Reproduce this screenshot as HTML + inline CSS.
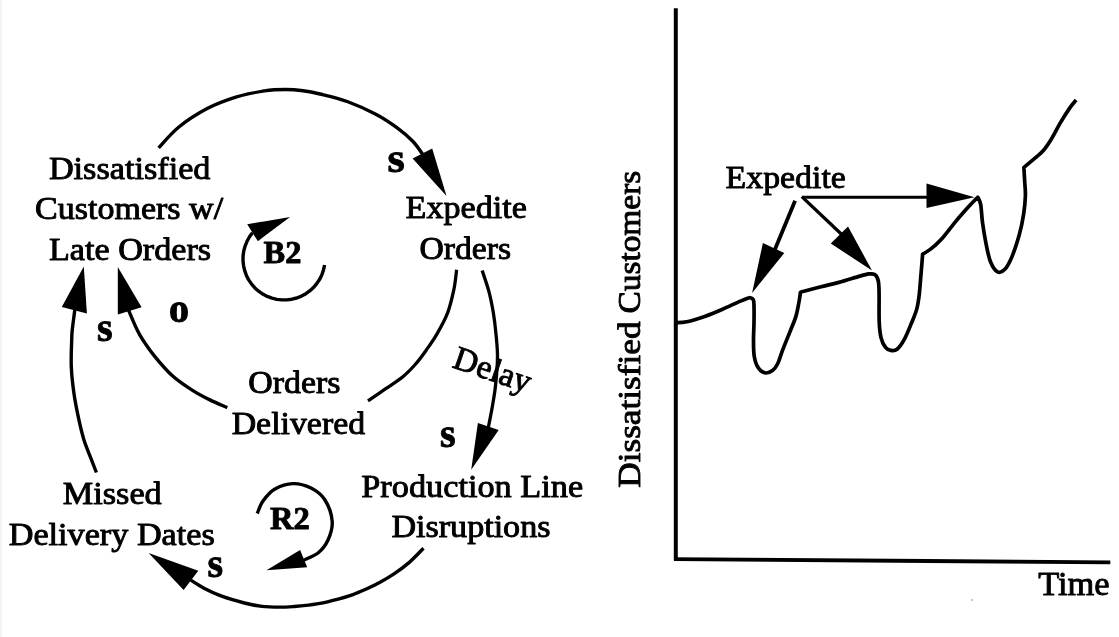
<!DOCTYPE html>
<html><head><meta charset="utf-8"><title>Causal loop</title>
<style>
html,body{margin:0;padding:0;background:#fff;}
body{width:1119px;height:637px;overflow:hidden;}
svg{display:block;font-family:"Liberation Serif",serif;fill:#000;}
text{stroke:#000;stroke-width:0.9px;stroke-linejoin:round;}
#ink{filter:url(#soft);}
</style></head><body>
<svg width="1119" height="637" viewBox="0 0 1119 637">
<defs><filter id="soft" x="-2%" y="-2%" width="104%" height="104%"><feGaussianBlur stdDeviation="0.55"/></filter></defs>
<rect width="1119" height="637" fill="#fff"/>
<rect x="0" y="0" width="2" height="637" fill="#f4f4f4"/>
<g id="ink">
<path d="M158.6 147.9 C161.9 144.5 170.5 133.8 178.6 127.2 C186.7 120.7 197.7 113.6 207.2 108.6 C216.7 103.6 226.3 100.2 235.8 97.2 C245.3 94.2 256.1 92.2 264.4 90.9 C272.7 89.6 279.4 89.5 285.8 89.5 C292.2 89.5 297.3 90.0 303.0 90.8 C308.7 91.5 312.6 92.2 320.0 94.0 C327.4 95.8 337.9 98.1 347.2 101.5 C356.5 104.9 367.5 109.9 375.8 114.3 C384.1 118.7 391.0 123.4 397.2 127.9 C403.4 132.4 408.6 136.9 413.0 141.5 C417.4 146.1 421.8 153.2 423.5 155.5" fill="none" stroke="#000" stroke-width="3.40" stroke-linecap="butt" stroke-linejoin="round" />
<path d="M446.5 196.1 L412.6 158.6 L432.2 148.6 Z" fill="#000"/>
<path d="M482.2 270.6 C483.3 274.0 486.9 284.1 488.8 291.1 C490.7 298.1 492.1 305.4 493.3 312.6 C494.5 319.8 495.3 326.7 496.0 334.1 C496.7 341.6 497.6 348.9 497.5 357.3 C497.4 365.7 496.5 376.6 495.6 384.7 C494.8 392.8 493.6 399.1 492.4 406.2 C491.2 413.2 489.1 423.5 488.4 427.0" fill="none" stroke="#000" stroke-width="3.30" stroke-linecap="butt" stroke-linejoin="round" />
<path d="M471.2 469.8 L477.9 422.9 L498.7 430.0 Z" fill="#000"/>
<path d="M456.6 269.7 C456.2 273.0 455.4 282.2 453.9 289.4 C452.4 296.5 450.5 305.2 447.7 312.6 C444.9 320.1 440.5 327.8 436.9 334.1 C433.3 340.4 429.8 345.1 426.2 350.2 C422.6 355.3 419.1 360.1 415.2 364.5 C411.3 368.9 407.9 372.6 402.9 376.7 C397.9 380.8 390.8 385.2 385.0 389.2 C379.2 393.2 370.8 398.9 368.0 400.8" fill="none" stroke="#000" stroke-width="3.30" stroke-linecap="butt" stroke-linejoin="round" />
<path d="M227.3 407.6 C224.4 406.3 215.8 402.8 209.9 399.9 C204.0 397.0 198.3 394.1 192.1 390.1 C185.8 386.1 178.7 381.5 172.4 375.8 C166.1 370.1 159.4 362.1 154.5 356.1 C149.6 350.1 145.9 344.6 142.9 340.0 C139.9 335.4 139.0 333.7 136.6 328.7 C134.2 323.7 129.8 313.1 128.5 310.0" fill="none" stroke="#000" stroke-width="3.40" stroke-linecap="butt" stroke-linejoin="round" />
<path d="M117.8 267.0 L117.8 314.4 L141.6 307.2 Z" fill="#000"/>
<path d="M96.4 472.5 C95.7 470.6 94.0 466.3 91.9 460.8 C89.8 455.3 86.0 446.5 83.8 439.4 C81.6 432.2 80.1 425.5 78.5 417.9 C76.9 410.3 75.2 402.2 74.0 393.7 C72.8 385.2 71.7 375.8 71.3 366.8 C70.9 357.9 71.5 346.1 71.7 340.0 C71.9 333.9 71.7 335.7 72.2 330.5 C72.7 325.3 74.5 312.6 74.9 309.0" fill="none" stroke="#000" stroke-width="3.40" stroke-linecap="butt" stroke-linejoin="round" />
<path d="M83.8 266.5 L61.8 306.9 L86.9 313.5 Z" fill="#000"/>
<path d="M423.5 548.2 C421.0 550.7 413.6 558.7 408.7 562.9 C403.8 567.1 399.2 570.4 394.4 573.6 C389.6 576.8 384.9 579.6 380.1 582.2 C375.3 584.8 370.6 587.1 365.8 589.3 C361.0 591.4 356.3 593.4 351.5 595.1 C346.7 596.8 342.0 598.0 337.2 599.3 C332.4 600.6 327.7 601.9 322.9 602.9 C318.1 603.9 313.4 604.5 308.6 605.1 C303.8 605.7 299.1 606.2 294.3 606.5 C289.5 606.8 285.4 607.1 280.0 607.1 C274.6 607.1 267.9 607.1 262.0 606.4 C256.1 605.7 251.3 604.8 244.4 603.0 C237.5 601.2 227.1 598.1 220.4 595.6 C213.7 593.1 209.1 590.9 204.0 588.2 C198.9 585.5 192.3 581.0 190.0 579.6" fill="none" stroke="#000" stroke-width="3.40" stroke-linecap="butt" stroke-linejoin="round" />
<path d="M148.6 552.9 L198.3 570.7 L183.6 590.0 Z" fill="#000"/>
<path d="M252.5 232.7 L249.5 236.8 L247.1 241.2 L245.2 245.8 L243.8 250.7 L243.1 255.7 L243.0 260.7 L243.6 265.8 L244.7 270.7 L246.4 275.4 L248.7 279.9 L251.6 284.1 L254.9 287.9 L258.6 291.2 L262.8 294.1 L267.2 296.4 L272.0 298.2 L276.9 299.4 L281.9 299.9 L286.9 299.9 L291.9 299.2 L296.8 298.0 L301.5 296.1 L305.9 293.7 L310.0 290.7 L313.7 287.3 L316.9 283.4 L319.7 279.2 L321.9 274.7 L323.5 269.9 L324.6 265.0" fill="none" stroke="#000" stroke-width="3.40" stroke-linecap="butt" stroke-linejoin="round" />
<path d="M290.1 216.9 L247.2 224.3 L257.9 241.2 Z" fill="#000"/>
<path d="M257.2 513.6 C258.2 511.5 260.0 505.1 263.0 501.0 C266.0 496.9 270.0 491.9 275.0 489.0 C280.0 486.1 286.9 483.8 292.9 483.6 C298.9 483.4 305.6 485.3 311.0 488.0 C316.4 490.7 321.5 494.4 325.0 500.0 C328.5 505.6 331.7 514.7 332.2 521.4 C332.7 528.1 330.4 534.7 328.0 540.0 C325.6 545.3 322.2 549.6 318.0 553.0 C313.8 556.4 305.5 559.2 303.0 560.5" fill="none" stroke="#000" stroke-width="3.40" stroke-linecap="butt" stroke-linejoin="round" />
<path d="M266.5 570.3 L300.1 550.0 L307.2 567.2 Z" fill="#000"/>
<text x="48.9" y="178.7" font-size="31.0" text-anchor="start" textLength="161.6" lengthAdjust="spacingAndGlyphs" >Dissatisfied</text>
<text x="35.1" y="219.4" font-size="31.0" text-anchor="start" textLength="188.0" lengthAdjust="spacingAndGlyphs" >Customers w/</text>
<text x="48.9" y="260.3" font-size="31.0" text-anchor="start" textLength="162.3" lengthAdjust="spacingAndGlyphs" >Late Orders</text>
<text x="405.6" y="217.9" font-size="31.0" text-anchor="start" textLength="121.2" lengthAdjust="spacingAndGlyphs" >Expedite</text>
<text x="419.4" y="258.9" font-size="31.0" text-anchor="start" textLength="91.6" lengthAdjust="spacingAndGlyphs" >Orders</text>
<text x="248.2" y="393.3" font-size="31.0" text-anchor="start" textLength="92.2" lengthAdjust="spacingAndGlyphs" >Orders</text>
<text x="231.7" y="433.9" font-size="31.0" text-anchor="start" textLength="133.4" lengthAdjust="spacingAndGlyphs" >Delivered</text>
<text x="361.3" y="496.5" font-size="31.0" text-anchor="start" textLength="221.8" lengthAdjust="spacingAndGlyphs" >Production Line</text>
<text x="391.4" y="537.4" font-size="31.0" text-anchor="start" textLength="159.1" lengthAdjust="spacingAndGlyphs" >Disruptions</text>
<text x="62.8" y="503.9" font-size="31.0" text-anchor="start" textLength="98.9" lengthAdjust="spacingAndGlyphs" >Missed</text>
<text x="8.7" y="545.4" font-size="31.0" text-anchor="start" textLength="206.1" lengthAdjust="spacingAndGlyphs" >Delivery Dates</text>
<text x="263.6" y="263.3" font-size="32.0" text-anchor="start" textLength="37.8" lengthAdjust="spacingAndGlyphs" font-weight="bold" >B2</text>
<text x="270.0" y="529.2" font-size="32.0" text-anchor="start" textLength="39.8" lengthAdjust="spacingAndGlyphs" font-weight="bold" >R2</text>
<text x="387.4" y="171.6" font-size="40.0" text-anchor="start" textLength="17.2" lengthAdjust="spacingAndGlyphs" font-weight="bold" >s</text>
<text x="440.0" y="446.7" font-size="40.0" text-anchor="start" font-weight="bold" >s</text>
<text x="207.5" y="576.7" font-size="40.0" text-anchor="start" font-weight="bold" >s</text>
<text x="97.0" y="341.0" font-size="40.0" text-anchor="start" font-weight="bold" >s</text>
<text x="169.0" y="321.7" font-size="40.0" text-anchor="start" font-weight="bold" >o</text>
<text transform="translate(451.3 367) rotate(19)" font-size="33.5" textLength="80" lengthAdjust="spacingAndGlyphs">Delay</text>
<path d="M675.8 8.3 L675.8 560.5" stroke="#000" stroke-width="4.0" fill="none"/>
<path d="M674 559.2 L1110.3 562.3" stroke="#000" stroke-width="3.8" fill="none"/>
<text x="1038.2" y="594.5" font-size="33.0" text-anchor="start" textLength="71.4" lengthAdjust="spacingAndGlyphs" >Time</text>
<text transform="translate(640.2 487.8) rotate(-90)" font-size="31.5" textLength="166.3" lengthAdjust="spacingAndGlyphs">Dissatisfied</text>
<text transform="translate(640.2 313.6) rotate(-90)" font-size="31.5" textLength="142.9" lengthAdjust="spacingAndGlyphs">Customers</text>
<text x="725.6" y="187.6" font-size="32.0" text-anchor="start" textLength="120.2" lengthAdjust="spacingAndGlyphs" >Expedite</text>
<path d="M676.1 322.6 C677.9 322.5 682.0 322.7 686.8 321.7 C691.6 320.7 698.7 318.5 704.7 316.4 C710.7 314.3 716.6 311.8 722.6 309.2 C728.6 306.6 736.0 303.0 740.5 301.1 C745.0 299.2 748.0 298.2 749.5 297.6  C750.1 297.9 752.5 298.1 753.2 299.5 C754.0 300.9 753.9 302.1 754.0 306.0 C754.1 309.9 754.1 316.9 754.0 322.6 C753.9 328.4 753.5 334.9 753.5 340.5 C753.5 346.1 753.5 351.6 754.2 356.0 C754.9 360.4 756.0 364.2 757.8 367.0 C759.5 369.8 762.2 372.2 764.7 372.8 C767.2 373.4 770.3 372.1 772.5 370.5 C774.7 368.9 776.1 366.9 777.8 363.5 C779.5 360.1 780.6 355.3 782.6 350.1 C784.6 344.9 787.6 337.9 789.8 332.2 C792.0 326.5 794.5 321.1 796.0 316.1 C797.5 311.1 798.2 306.0 799.0 302.0 C799.8 298.0 800.2 293.8 800.5 292.2  C803.9 291.3 814.6 288.4 821.0 286.8 C827.4 285.2 832.4 284.2 838.9 282.4 C845.4 280.6 855.1 277.5 860.0 276.1 C864.9 274.7 866.9 274.3 868.3 273.9  C869.4 274.0 873.1 273.4 874.8 274.6 C876.5 275.8 877.6 277.8 878.3 281.0 C879.0 284.2 879.0 287.2 879.1 294.0 C879.2 300.8 878.9 314.2 879.2 321.5 C879.5 328.8 880.0 333.3 881.0 337.6 C882.0 341.9 883.9 345.3 885.5 347.4 C887.1 349.5 888.9 350.1 890.8 350.4 C892.7 350.7 894.9 351.0 897.1 349.2 C899.4 347.4 901.9 343.7 904.3 339.4 C906.7 335.1 909.3 328.4 911.4 323.3 C913.5 318.2 915.5 313.8 916.8 308.9 C918.1 304.0 918.6 300.0 919.3 294.0 C920.0 288.0 920.5 279.6 921.1 273.0 C921.7 266.4 922.4 257.3 922.6 254.2  C924.0 253.3 927.7 251.4 930.9 248.9 C934.1 246.4 937.4 243.6 941.6 239.0 C945.8 234.4 951.5 226.5 956.0 221.1 C960.5 215.7 964.9 210.8 968.5 206.8 C972.1 202.8 976.2 198.8 977.8 197.2  C978.3 198.4 979.9 200.5 980.7 204.7 C981.5 208.9 981.6 216.0 982.5 222.6 C983.4 229.2 984.8 237.5 986.1 244.1 C987.5 250.7 988.7 257.4 990.6 262.0 C992.5 266.6 995.1 270.6 997.5 271.8 C999.9 273.0 1002.5 271.8 1004.9 269.3 C1007.3 266.8 1009.6 262.3 1012.0 256.6 C1014.4 250.9 1017.2 242.2 1019.2 235.1 C1021.2 227.9 1022.7 220.2 1023.7 213.7 C1024.7 207.1 1025.2 201.4 1025.4 195.8 C1025.6 190.2 1024.8 184.7 1024.6 180.0 C1024.3 175.3 1024.0 169.5 1023.9 167.4  C1024.9 166.6 1026.8 164.9 1029.9 162.3 C1033.0 159.7 1038.8 155.5 1042.4 151.6 C1046.0 147.7 1048.4 143.8 1051.4 139.0 C1054.4 134.2 1057.3 128.0 1060.3 122.9 C1063.3 117.8 1066.7 112.4 1069.3 108.6 C1071.9 104.8 1075.0 101.4 1076.1 100.0" fill="none" stroke="#000" stroke-width="3.70" stroke-linecap="butt" stroke-linejoin="round" />
<path d="M795.1 200.7 L775 249.3" fill="none" stroke="#000" stroke-width="3.80" stroke-linecap="butt" stroke-linejoin="round" />
<path d="M752.1 293.1 L762.9 242.9 L784.3 252.9 Z" fill="#000"/>
<path d="M801.8 196.6 L841.5 234.3" fill="none" stroke="#000" stroke-width="3.30" stroke-linecap="butt" stroke-linejoin="round" />
<path d="M872.0 270.5 L830.8 243.6 L848.0 226.5 Z" fill="#000"/>
<path d="M802.2 197.2 L930 197.2" fill="none" stroke="#000" stroke-width="2.90" stroke-linecap="butt" stroke-linejoin="round" />
<path d="M974.5 197.2 L926.5 183.6 L926.5 207.9 Z" fill="#000"/>
<circle cx="972" cy="600" r="1.1" fill="#bbb"/>
</g>
</svg>
</body></html>
